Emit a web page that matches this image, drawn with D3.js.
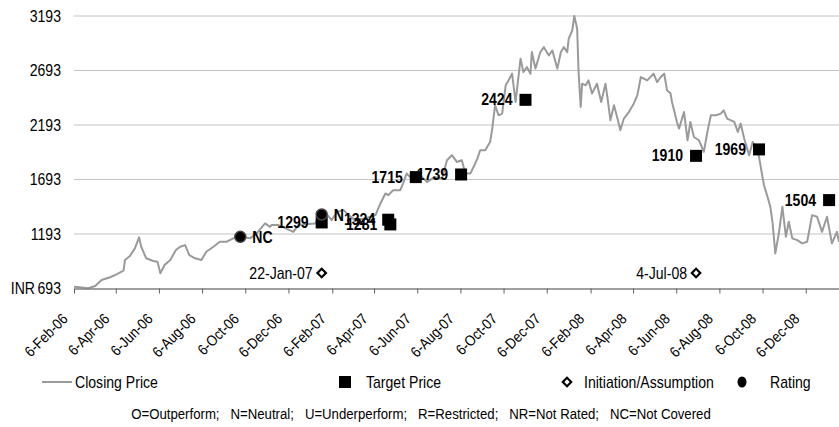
<!DOCTYPE html>
<html>
<head>
<meta charset="utf-8">
<script src="https://cdn.jsdelivr.net/npm/d3@7/dist/d3.min.js"></script>
<style>
  html, body { margin: 0; padding: 0; background: #fff; }
  svg { display: block; }
  text { font-family: "Liberation Sans", Arial, sans-serif; fill: #000; }
</style>
</head>
<body>
<svg id="chart" width="839" height="427"></svg>
<script>
// Closing price history (INR)
const priceDates = [
  "2006-02-06","2006-02-14","2006-02-26","2006-03-08","2006-03-17","2006-03-29","2006-04-07","2006-04-17","2006-04-19","2006-04-26",
  "2006-05-03","2006-05-09","2006-05-12","2006-05-19","2006-05-29","2006-06-04","2006-06-08","2006-06-14","2006-06-22","2006-06-30",
  "2006-07-06","2006-07-13","2006-07-19","2006-07-27","2006-08-05","2006-08-12","2006-08-22","2006-08-31","2006-09-10","2006-09-19",
  "2006-09-29","2006-10-13","2006-10-22","2006-11-03","2006-11-10","2006-11-12","2006-11-22","2006-12-13","2006-12-20","2007-01-03",
  "2007-01-13","2007-01-17","2007-01-22","2007-01-29","2007-02-05","2007-02-13","2007-02-22","2007-03-01","2007-03-10","2007-03-24",
  "2007-04-08","2007-04-15","2007-04-22","2007-04-26","2007-05-03","2007-05-13","2007-05-17","2007-05-22","2007-05-29","2007-06-10",
  "2007-06-20","2007-07-01","2007-07-11","2007-07-18","2007-07-25","2007-08-01","2007-08-08","2007-08-13","2007-08-20","2007-08-27",
  "2007-08-30","2007-09-03","2007-09-10","2007-09-17","2007-09-20","2007-09-24","2007-09-29","2007-10-04","2007-10-09","2007-10-13",
  "2007-10-18","2007-10-23","2007-10-30","2007-11-03","2007-11-08","2007-11-13","2007-11-15","2007-11-20","2007-11-27","2007-12-02",
  "2007-12-09","2007-12-14","2007-12-21","2007-12-26","2007-12-30","2008-01-04","2008-01-06","2008-01-11","2008-01-14","2008-01-18",
  "2008-01-20","2008-01-23","2008-01-25","2008-01-30","2008-02-03","2008-02-08","2008-02-15","2008-02-21","2008-02-27","2008-03-01",
  "2008-03-05","2008-03-10","2008-03-15","2008-03-19","2008-03-24","2008-03-31","2008-04-07","2008-04-12","2008-04-17","2008-04-26",
  "2008-05-05","2008-05-10","2008-05-15","2008-05-20","2008-05-24","2008-05-29","2008-05-31","2008-06-07","2008-06-10","2008-06-17",
  "2008-06-22","2008-06-26","2008-07-01","2008-07-08","2008-07-15","2008-07-20","2008-07-25","2008-08-01","2008-08-08","2008-08-12",
  "2008-08-17","2008-08-27","2008-09-01","2008-09-05","2008-09-10","2008-09-17","2008-09-22","2008-09-26","2008-10-01","2008-10-05",
  "2008-10-08","2008-10-13","2008-10-17","2008-10-20","2008-10-24","2008-10-29","2008-11-03","2008-11-08","2008-11-12","2008-11-17",
  "2008-11-24","2008-12-01","2008-12-08","2008-12-15","2008-12-22","2008-12-29","2009-01-05","2009-01-12","2009-01-19","2009-01-22"
];
const closingPrices = [
  710,704,695,716,771,796,823,856,954,991,
  1061,1162,1076,970,945,938,832,908,954,1046,
  1076,1091,1000,970,954,1030,1076,1122,1122,1153,
  1167,1153,1199,1290,1259,1275,1275,1213,1275,1284,
  1290,1351,1360,1375,1320,1396,1412,1366,1320,1336,
  1366,1473,1565,1549,1595,1595,1656,1748,1702,1732,
  1671,1717,1702,1870,1916,1854,1870,1748,1748,1840,
  1885,1961,1961,2037,2160,2374,2282,2297,2557,2602,
  2664,2404,2801,2678,2724,2664,2862,2710,2862,2907,
  2831,2877,2710,2862,2907,2862,2984,3060,3193,3076,
  2678,2358,2572,2557,2602,2481,2572,2404,2572,2435,
  2236,2374,2252,2145,2252,2312,2389,2465,2633,2602,
  2664,2587,2633,2664,2511,2481,2404,2221,2160,2312,
  2053,2221,2083,2053,1946,2129,2282,2282,2297,2328,
  2252,2221,2129,2206,2069,1916,2037,1992,1900,1748,
  1641,1534,1442,1305,1015,1199,1442,1167,1305,1153,
  1137,1107,1122,1366,1351,1213,1351,1107,1213,1122
];

// Target price changes
const targetDates  = ["2007-01-22","2007-04-26","2007-04-29","2007-06-04","2007-08-07","2007-11-06","2008-07-04","2008-10-01","2009-01-08"];
const targetPrices = [1299, 1324, 1281, 1715, 1739, 2424, 1910, 1969, 1504];

// Rating changes
const ratingDates  = ["2006-09-29","2007-01-22"];
const ratingValues = [1167, 1372];
const ratingCodes  = ["NC","N"];

// Initiation / assumption of coverage
const initiationDates  = ["2007-01-22","2008-07-04"];
const initiationLabels = ["22-Jan-07","4-Jul-08"];
const initiationLevel  = 835;

// Axis ticks
const yTicks = [693, 1193, 1693, 2193, 2693, 3193];
const xTickDates = [
  "2006-02-06","2006-04-06","2006-06-06","2006-08-06","2006-10-06","2006-12-06",
  "2007-02-06","2007-04-06","2007-06-06","2007-08-06","2007-10-06","2007-12-06",
  "2008-02-06","2008-04-06","2008-06-06","2008-08-06","2008-10-06","2008-12-06"
];
const xDomain = ["2006-02-06","2009-01-22"];

const legendItems = ["Closing Price","Target Price","Initiation/Assumption","Rating"];
const footnote = "O=Outperform;   N=Neutral;   U=Underperform;   R=Restricted;   NR=Not Rated;   NC=Not Covered";

const parse = d3.timeParse("%Y-%m-%d");
const fmt = d3.timeFormat("%-d-%b-%y");
const NARROW = 0.88;

// condensed text: move x/y into a transform and squeeze horizontally
function squeeze(sel, extra) {
  sel.each(function () {
    const t = d3.select(this);
    const tx = +t.attr("x") || 0, ty = +t.attr("y") || 0;
    t.attr("x", 0).attr("y", 0)
      .attr("transform", `translate(${tx},${ty}) ${extra || ""} scale(${NARROW},1)`);
  });
  return sel;
}

const svg = d3.select("#chart");
const plotLeft = 74, plotRight = 839, plotTop = 16, plotBottom = 288.5;

const x = d3.scaleTime().domain(xDomain.map(parse)).range([plotLeft, plotRight]);
const y = d3.scaleLinear().domain([693, 3193]).range([plotBottom, plotTop]);

// horizontal gridlines
svg.append("g").selectAll("line")
  .data(yTicks.filter(v => v !== 693))
  .join("line")
  .attr("x1", plotLeft).attr("x2", plotRight)
  .attr("y1", d => y(d)).attr("y2", d => y(d))
  .attr("stroke", "#c4c4c4").attr("stroke-width", 1);

// y axis labels
const yAxis = d3.axisLeft(y).tickValues(yTicks).tickSize(0).tickPadding(13)
  .tickFormat(d => d3.format("d")(d));
const gy = svg.append("g").attr("transform", `translate(${plotLeft},0)`).call(yAxis);
gy.attr("font-family", null).attr("font-size", null);
gy.select(".domain").remove();
squeeze(gy.selectAll("text").attr("font-size", 16));
squeeze(svg.append("text").attr("x", 35).attr("y", y(693)).attr("dy", "0.32em")
  .attr("text-anchor", "end").attr("font-size", 16).text("INR"));

// closing price line
const prices = priceDates.map((d, i) => ({ date: parse(d), value: closingPrices[i] }));
svg.append("path").datum(prices)
  .attr("fill", "none").attr("stroke", "#9a9a9a").attr("stroke-width", 2)
  .attr("stroke-linejoin", "round")
  .attr("d", d3.line().x(d => x(d.date)).y(d => y(d.value)));

// x axis
const xAxis = d3.axisBottom(x).tickValues(xTickDates.map(parse)).tickSize(5).tickSizeOuter(0).tickFormat(fmt);
const gx = svg.append("g").attr("transform", `translate(0,${plotBottom})`).call(xAxis);
gx.attr("font-family", null).attr("font-size", null);
gx.select(".domain").attr("stroke", "#808080").attr("stroke-width", 1.5);
gx.selectAll(".tick line").attr("stroke", "#606060");
// rotated date labels: end of each label tucked just left of and below its tick
gx.selectAll(".tick text")
  .attr("font-size", 15)
  .attr("text-anchor", "end")
  .attr("dy", null)
  .each(function (d) {
    const t = d3.select(this);
    t.attr("x", 0).attr("y", 0)
      .attr("transform", `translate(0,0) rotate(-45) scale(${NARROW},1)`);
    const r = this.getBoundingClientRect();
    const dx = (x(d) - 3) - r.right;
    const dy = 310 - r.top;
    t.attr("transform", `translate(${dx},${dy}) rotate(-45) scale(${NARROW},1)`);
  });

// initiation markers
const diamond = d3.symbol().type(d3.symbolSquare).size(36);
initiationDates.forEach((d, i) => {
  const cx = x(parse(d)), cy = y(initiationLevel);
  svg.append("path").attr("d", diamond).attr("transform", `translate(${cx},${cy}) rotate(45)`)
    .attr("fill", "#fff").attr("stroke", "#000").attr("stroke-width", 2.2);
  squeeze(svg.append("text").attr("x", cx - 9).attr("y", cy).attr("dy", "0.35em")
    .attr("text-anchor", "end").attr("font-size", 16).text(initiationLabels[i]));
});

// target price markers
targetDates.forEach((d, i) => {
  const cx = x(parse(d)), cy = y(targetPrices[i]);
  svg.append("rect").attr("x", cx - 6).attr("y", cy - 6).attr("width", 12).attr("height", 12).attr("fill", "#000");
  squeeze(svg.append("text").attr("x", cx - 13).attr("y", cy).attr("dy", "0.35em")
    .attr("text-anchor", "end").attr("font-size", 16).attr("font-weight", "bold")
    .text(targetPrices[i]));
});

// rating markers
ratingDates.forEach((d, i) => {
  const cx = x(parse(d)), cy = y(ratingValues[i]);
  svg.append("circle").attr("cx", cx).attr("cy", cy).attr("r", 5.5)
    .attr("fill", "#000").attr("stroke", "#444").attr("stroke-width", 1.5);
  squeeze(svg.append("text").attr("x", cx + 12).attr("y", cy + 1).attr("dy", "0.35em")
    .attr("font-size", 16).attr("font-weight", "bold").text(ratingCodes[i]));
});

// legend
const ly = 382;
const lg = svg.append("g");
lg.append("line").attr("x1", 42).attr("x2", 72).attr("y1", ly).attr("y2", ly)
  .attr("stroke", "#9a9a9a").attr("stroke-width", 2);
lg.append("rect").attr("x", 339).attr("y", ly - 6).attr("width", 12).attr("height", 12).attr("fill", "#000");
lg.append("path").attr("d", diamond).attr("transform", `translate(567,${ly}) rotate(45)`)
  .attr("fill", "#fff").attr("stroke", "#000").attr("stroke-width", 2.2);
lg.append("ellipse").attr("cx", 742).attr("cy", ly).attr("rx", 4.5).attr("ry", 5.5).attr("fill", "#000");
const legendX = [75, 366, 584, 770];
legendItems.forEach((t, i) => {
  squeeze(lg.append("text").attr("x", legendX[i]).attr("y", ly).attr("dy", "0.35em")
    .attr("font-size", 16).text(t));
});

// footnote
squeeze(svg.append("text").attr("x", 421).attr("y", 414).attr("dy", "0.35em")
  .attr("text-anchor", "middle").attr("font-size", 15)
  .attr("xml:space", "preserve").style("white-space", "pre").text(footnote));
</script>
</body>
</html>
